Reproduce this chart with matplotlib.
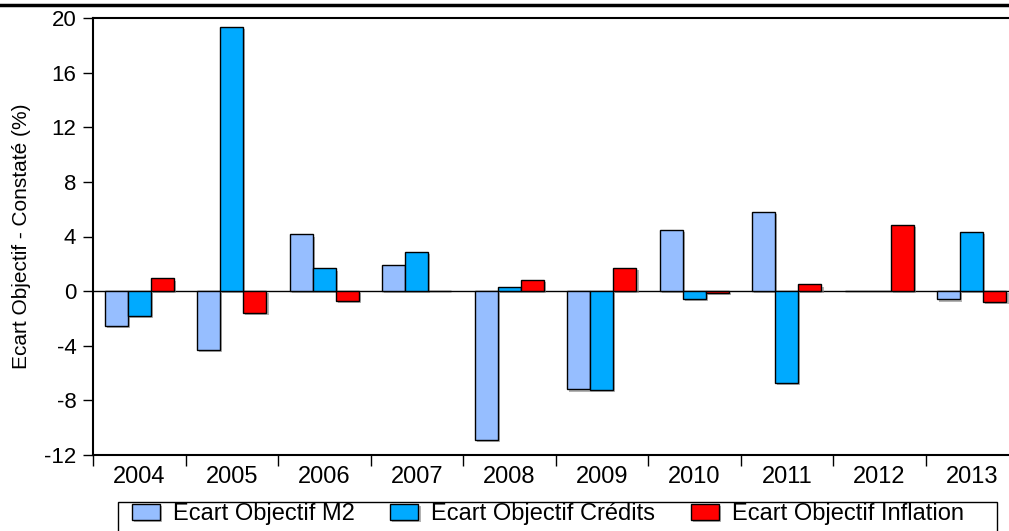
import matplotlib.pyplot as plt
import matplotlib.patheffects as pe
from matplotlib.patches import Rectangle
import numpy as np

# Values (Ecart objectif - constaté, %)
years = ["2004", "2005", "2006", "2007", "2008", "2009", "2010", "2011", "2012", "2013"]
m2 = [-2.55, -4.3, 4.15, 1.88, -10.9, -7.2, 4.5, 5.83, 0.0, -0.61]
credits = [-1.8, 19.35, 1.66, 2.9, 0.27, -7.25, -0.56, -6.75, 0.0, 4.3]
inflation = [0.93, -1.63, -0.71, 0.0, 0.85, 1.71, -0.15, 0.49, 4.85, -0.78]

labels = ["Ecart Objectif M2", "Ecart Objectif Crédits", "Ecart Objectif Inflation"]
colors = ["#96BEFF", "#00AAFF", "#FF0000"]

plt.rcParams["font.family"] = ["Liberation Sans", "DejaVu Sans"]
plt.rcParams["axes.unicode_minus"] = False

W, H = 1009, 531
fig = plt.figure(figsize=(W / 100, H / 100), dpi=100)
ax = fig.add_axes([93 / W, 1 - 455 / H, 925 / W, 437 / H])

x = np.arange(len(years))
w = 0.25
shadow = [pe.SimplePatchShadow(offset=(1.5, -1.5), shadow_rgbFace="gray", alpha=0.6), pe.Normal()]
for i, (vals, lab, col) in enumerate(zip([m2, credits, inflation], labels, colors)):
    bars = ax.bar(x + (i - 1) * w, vals, width=w, color=col, edgecolor="black",
                  linewidth=1.0, label=lab)
    for b in bars:
        b.set_path_effects(shadow)

ax.axhline(0, color="black", linewidth=1.0, zorder=0.5)

ax.set_xlim(-0.5, len(years) - 0.5)
ax.set_ylim(-12, 20)
ax.set_yticks(np.arange(-12, 21, 4))
ax.tick_params(axis="y", direction="out", length=7, width=1, labelsize=16, pad=5)

# ticks at category boundaries, labels at centres
ax.set_xticks(np.arange(len(years)) - 0.5)
ax.set_xticklabels([])
ax.set_xticks(x, minor=True)
ax.set_xticklabels(years, minor=True, fontsize=17)
ax.tick_params(axis="x", which="major", direction="out", length=8, width=1)
ax.tick_params(axis="x", which="minor", length=0, pad=8)

for s in ax.spines.values():
    s.set_linewidth(1.5)

ax.set_ylabel("Ecart Objectif - Constaté (%)", fontsize=15)
ax.yaxis.set_label_coords(-62 / 925, 0.5)

# legend without its own frame, box drawn separately (cut by the bottom edge)
leg = fig.legend(loc="upper left", bbox_to_anchor=(132 / W, 1 - 503 / H), ncol=3,
                 fontsize=17, frameon=False, handlelength=1.19, handleheight=0.64,
                 columnspacing=1.5, handletextpad=0.55, borderpad=0, borderaxespad=0)
fig.add_artist(Rectangle((118 / W, -0.05), (997 - 118) / W, 0.05 + (H - 502) / H,
                         transform=fig.transFigure, fill=False, edgecolor="black",
                         linewidth=1.0))

# page separator line at the top
fig.add_artist(plt.Line2D([0, 1], [1 - 5 / H, 1 - 5 / H], color="black", linewidth=2.5))

fig.savefig("out.png", dpi=100)
